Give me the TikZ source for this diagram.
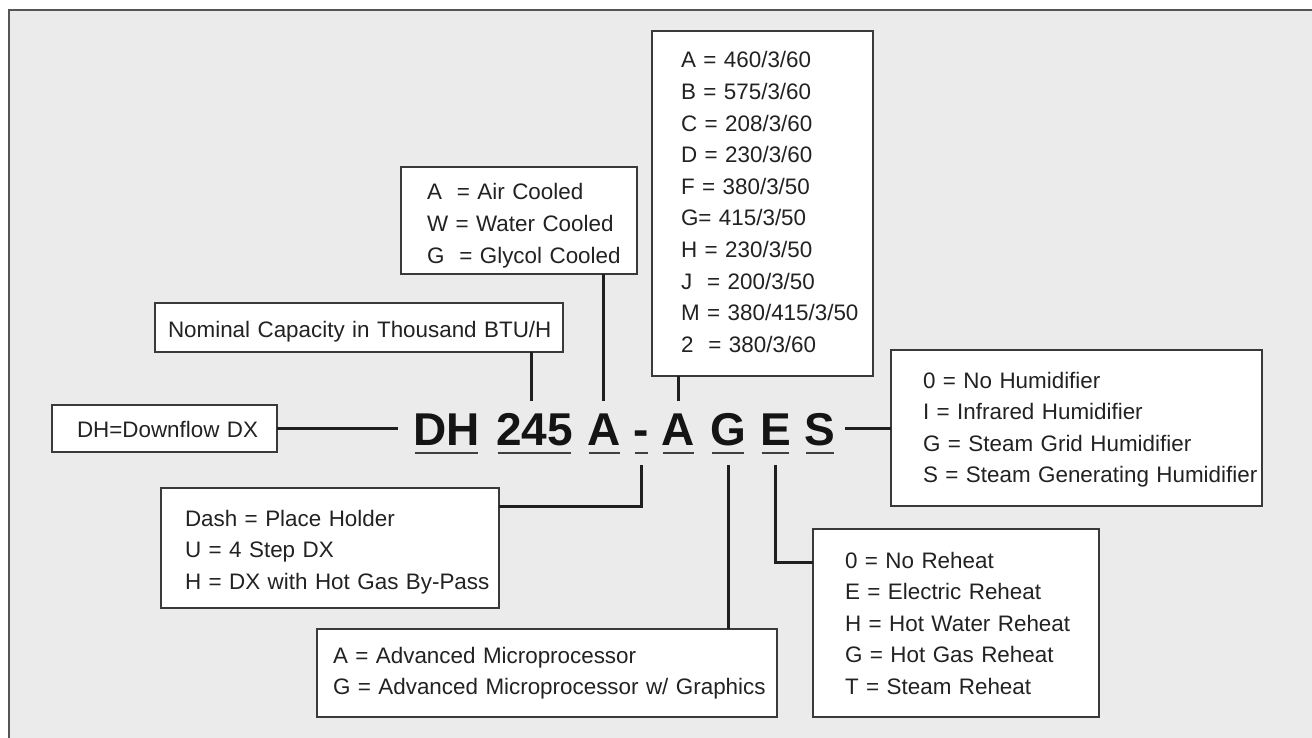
\documentclass[tikz,border=0pt]{standalone}
\usepackage{fontspec}
\setmainfont{Liberation Sans}
\definecolor{bgc}{HTML}{EBEBEB}
\definecolor{framec}{HTML}{555555}
\definecolor{boxline}{HTML}{3A3A3A}
\definecolor{inkc}{HTML}{222222}
\newcommand{\lr}[1]{\mbox{#1}}
\begin{document}
\begin{tikzpicture}[x=1pt,y=-1pt]
\tikzset{
  codebox/.style={draw=boxline, line width=1.8pt, fill=white, inner ysep=0pt, outer sep=0pt,
    align=left, anchor=north west, font=\fontsize{22.4pt}{31.6pt}\selectfont, text=inkc},
  codechar/.style={inner sep=0pt, outer sep=0pt, anchor=base,
    font=\fontsize{46pt}{50pt}\selectfont\bfseries, text=black!92},
  conn/.style={draw=black!88, line width=3pt},
  uline/.style={draw=black!75, line width=2.5pt}
}
\useasboundingbox (0,0) rectangle (1312,738);
\fill[white] (0,0) rectangle (1312,738);
\fill[bgc] (9,10) rectangle (1312,738);
\draw[framec, line width=2.5pt] (9,738) -- (9,10) -- (1312,10);

% boxes
\node[codebox, inner xsep=13pt, text width=382pt] (capbox) at (155,303)
  {\lr{\rule{0pt}{34pt}Nominal Capacity in Thousand BTU/H\rule[-15pt]{0pt}{15pt}}};
\node[codebox, inner xsep=25pt, text width=175pt] (dhbox) at (52,405)
  {\lr{\rule{0pt}{32pt}DH=Downflow DX\rule[-15pt]{0pt}{15pt}}};
\node[codebox, inner xsep=26pt, text width=184pt] (coolbox) at (401,167)
  {\lr{\rule{0pt}{33pt}A\ \ = Air Cooled}\\
   \lr{W = Water Cooled}\\
   \lr{G\ \ = Glycol Cooled\rule[-10.8pt]{0pt}{10.8pt}}};
\node[codebox, inner xsep=29pt, text width=163pt] (powbox) at (652,31)
  {\lr{\rule{0pt}{37pt}A = 460/3/60}\\
   \lr{B = 575/3/60}\\
   \lr{C = 208/3/60}\\
   \lr{D = 230/3/60}\\
   \lr{F = 380/3/50}\\
   \lr{G= 415/3/50}\\
   \lr{H = 230/3/50}\\
   \lr{J\ \ = 200/3/50}\\
   \lr{M = 380/415/3/50}\\
   \lr{2\ \ = 380/3/60\rule[-23.6pt]{0pt}{23.6pt}}};
\node[codebox, inner xsep=32pt, text width=307pt] (humbox) at (891,350)
  {\lr{\rule{0pt}{38pt}0 = No Humidifier}\\
   \lr{I = Infrared Humidifier}\\
   \lr{G = Steam Grid Humidifier}\\
   \lr{S = Steam Generating Humidifier\rule[-23.2pt]{0pt}{23.2pt}}};
\node[codebox, inner xsep=24pt, text width=290pt] (dashbox) at (161,488)
  {\lr{\rule{0pt}{38pt}Dash = Place Holder}\\
   \lr{U = 4 Step DX}\\
   \lr{H = DX with Hot Gas By-Pass\rule[-18.8pt]{0pt}{18.8pt}}};
\node[codebox, inner xsep=16pt, text width=428pt] (ctrlbox) at (317,629)
  {\lr{\rule{0pt}{34pt}A = Advanced Microprocessor}\\
   \lr{G = Advanced Microprocessor w/ Graphics\rule[-22.4pt]{0pt}{22.4pt}}};
\node[codebox, inner xsep=32pt, text width=222pt] (rhbox) at (813,529)
  {\lr{\rule{0pt}{39pt}0 = No Reheat}\\
   \lr{E = Electric Reheat}\\
   \lr{H = Hot Water Reheat}\\
   \lr{G = Hot Gas Reheat}\\
   \lr{T = Steam Reheat\rule[-22.6pt]{0pt}{22.6pt}}};

% model code
\node[codechar] (cDH) at (446.5,445) {DH};
\node[codechar] (c245) at (534.5,445) {245};
\node[codechar] (cA1) at (604.5,445) {A};
\node[codechar] (cDash) at (641.5,445) {-};
\node[codechar] (cA2) at (678.5,445) {A};
\node[codechar] (cG) at (728,445) {G};
\node[codechar] (cE) at (775.5,445) {E};
\node[codechar] (cS) at (820,445) {S};

\foreach \n in {cDH,c245,cA1,cDash,cA2,cG,cE,cS}
  \draw[uline] ([shift={(1.5pt,-8pt)}]\n.base west) -- ([shift={(-1.5pt,-8pt)}]\n.base east);

% connectors
\coordinate (t245) at ([xshift=-3.5pt]c245.north);
\coordinate (tA1) at ([xshift=-1.5pt]cA1.north);
\draw[conn, shorten >=15pt] (dhbox.east) -- (dhbox.east -| cDH.west);
\draw[conn, shorten <=10pt] (cS.east |- humbox.west) -- (humbox.west);
\draw[conn, shorten >=12pt] (t245 |- capbox.south) -- (t245);
\draw[conn, shorten >=12pt] (tA1 |- coolbox.south) -- (tA1);
\draw[conn, shorten >=12pt] (cA2.north |- powbox.south) -- (cA2.north);
\draw[conn] ([yshift=-20pt]cDash.base) |- ([yshift=42pt]dashbox.east);
\draw[conn] ([yshift=-20pt]cG.base) -- (cG.base |- ctrlbox.north);
\draw[conn] ([yshift=-20pt]cE.base) |- ([yshift=61pt]rhbox.west);
\end{tikzpicture}
\end{document}
